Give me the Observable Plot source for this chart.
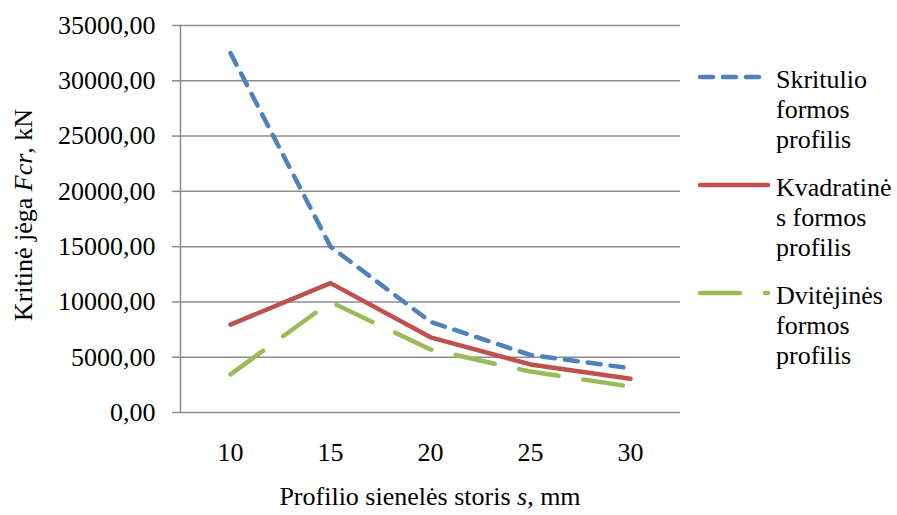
<!DOCTYPE html>
<html>
<head>
<meta charset="utf-8">
<script src="https://cdn.jsdelivr.net/npm/d3@7"></script>
<script src="https://cdn.jsdelivr.net/npm/@observablehq/plot@0.6"></script>
<style>
  html, body { margin: 0; padding: 0; background: #fff; }
  #chart { width: 897px; height: 515px; }
</style>
</head>
<body>
<div id="chart"></div>
<script>
// Wall thickness s, mm (categories on the x axis)
const thickness = [10, 15, 20, 25, 30];

// Critical force Fcr, kN, for each profile type
const circular = [32500, 15000, 8200, 5200, 4000];
const square = [7950, 11700, 6800, 4350, 3050];
const ibeam = [3450, 10000, 5700, 3700, 2350];

// Y axis ticks
const yTicks = [0, 5000, 10000, 15000, 20000, 25000, 30000, 35000];

// Legend labels, already broken into lines
const seriesLabels = [
  ["Skritulio", "formos", "profilis"],
  ["Kvadratinė", "s formos", "profilis"],
  ["Dvitėjinės", "formos", "profilis"]
];

const seriesStyle = [
  { color: "#4F81BD", dash: "13,10" },
  { color: "#C0504D", dash: null },
  { color: "#9BBB59", dash: "40,25" }
];

const seriesValues = [circular, square, ibeam];

const rows = seriesValues.map(vals => thickness.map((s, i) => ({ s, F: vals[i] })));

const gridColor = "#8c8c8c";
const font = "'Liberation Serif', 'Times New Roman', serif";
const fmt = d => d.toFixed(2).replace(".", ",");

const lineMarks = rows.map((data, k) => Plot.line(data, {
  x: "s",
  y: "F",
  stroke: seriesStyle[k].color,
  strokeWidth: 4.5,
  strokeDasharray: seriesStyle[k].dash ?? undefined,
  strokeLinecap: "round",
  strokeLinejoin: "round"
}));

const chart = Plot.plot({
  width: 897,
  height: 515,
  marginLeft: 180,
  marginRight: 217,
  marginTop: 25,
  marginBottom: 103,
  style: { fontFamily: font, fontSize: "26px", color: "#000", background: "#fff" },
  x: { type: "point", domain: thickness, padding: 0.5, label: null },
  y: { domain: [0, 35000], label: null },
  marks: [
    Plot.ruleY(yTicks, { stroke: gridColor, strokeWidth: 1.5 }),
    Plot.frame({ anchor: "left", stroke: gridColor, strokeWidth: 1.5 }),
    Plot.axisY(yTicks, {
      tickSize: 8, tickPadding: 17, tickFormat: fmt,
      stroke: gridColor, strokeWidth: 1.5, fill: "#000", label: null
    }),
    Plot.axisX(thickness, { tickSize: 0, tickPadding: 30, fill: "#000", label: null }),
    ...lineMarks
  ]
});

document.getElementById("chart").appendChild(chart);

const svg = d3.select(chart);

function addText(sel) {
  return sel.append("text")
    .attr("font-family", font)
    .attr("font-size", 26)
    .style("font-family", font)
    .style("font-size", "26px")
    .attr("fill", "#000");
}

// Axis titles
const yTitle = addText(svg)
  .attr("transform", "translate(32,215) rotate(-90)")
  .attr("text-anchor", "middle");
yTitle.append("tspan").text("Kritinė jėga ");
yTitle.append("tspan").attr("font-style", "italic").text("Fcr");
yTitle.append("tspan").text(", kN");

const xTitle = addText(svg)
  .attr("x", 430).attr("y", 505)
  .attr("text-anchor", "middle");
xTitle.append("tspan").text("Profilio sienelės storis ");
xTitle.append("tspan").attr("font-style", "italic").text("s");
xTitle.append("tspan").text(", mm");

// Legend on the right
const legend = svg.append("g").attr("text-anchor", "start");
seriesLabels.forEach((lines, k) => {
  const y0 = 77 + k * 108;
  legend.append("line")
    .attr("x1", 700).attr("x2", 768).attr("y1", y0).attr("y2", y0)
    .attr("stroke", seriesStyle[k].color)
    .attr("stroke-width", 4.5)
    .attr("stroke-linecap", "round")
    .attr("stroke-dasharray", seriesStyle[k].dash);
  const t = addText(legend)
    .attr("text-anchor", "start")
    .style("text-anchor", "start");
  lines.forEach((ln, j) => {
    t.append("tspan").attr("x", 776).attr("y", y0 + 11 + j * 30).text(ln);
  });
});
</script>
</body>
</html>
